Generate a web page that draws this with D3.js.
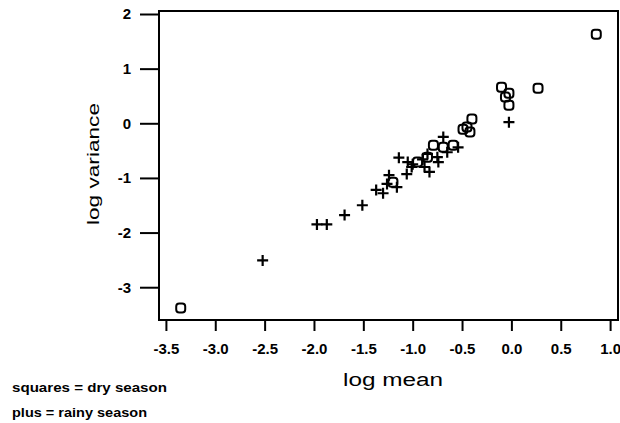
<!DOCTYPE html>
<html>
<head>
<meta charset="utf-8">
<script src="https://cdn.jsdelivr.net/npm/d3@7"></script>
<style>
  body { margin: 0; background: #fff; }
  svg { display: block; font-family: "Liberation Sans", Arial, sans-serif; }
</style>
</head>
<body>
<div id="chart"></div>
<script>
// dry season (squares): [log mean, log variance]
const dryMean = [-3.35, -1.20, -0.95, -0.85, -0.79, -0.69, -0.59, -0.49, -0.45, -0.42, -0.40, -0.10, -0.06, -0.025, -0.025, 0.27, 0.86];
const dryVar  = [-3.38, -1.08, -0.71, -0.62, -0.40, -0.44, -0.40, -0.11, -0.07, -0.16, 0.08, 0.66, 0.48, 0.55, 0.33, 0.64, 1.63];

// rainy season (plus)
const rainyMean = [-2.52, -1.97, -1.87, -1.69, -1.51, -1.37, -1.30, -1.26, -1.24, -1.16, -1.14, -1.06, -1.05, -1.01, -1.00, -0.90, -0.88, -0.83, -0.85, -0.75, -0.74, -0.69, -0.65, -0.54, -0.025];
const rainyVar  = [-2.51, -1.85, -1.85, -1.68, -1.50, -1.22, -1.28, -1.11, -0.95, -1.17, -0.63, -0.93, -0.71, -0.80, -0.75, -0.66, -0.80, -0.89, -0.56, -0.62, -0.71, -0.25, -0.53, -0.44, 0.02];

const xTicks = [-3.5, -3.0, -2.5, -2.0, -1.5, -1.0, -0.5, 0.0, 0.5, 1.0];
const yTicks = [-3, -2, -1, 0, 1, 2];
const legendLines = ['squares = dry season', 'plus = rainy season'];
const legendWidths = [155, 135];

const W = 620, H = 423;
const margin = {top: 11, right: 2, bottom: 103, left: 159};
const width = W - margin.left - margin.right;
const height = H - margin.top - margin.bottom;

const svg = d3.select('#chart').append('svg')
    .attr('width', W)
    .attr('height', H);

const g = svg.append('g')
    .attr('transform', `translate(${margin.left},${margin.top})`);

const x = d3.scaleLinear().domain([-3.57, 1.08]).range([0, width]);
const y = d3.scaleLinear().domain([-3.6, 2.055]).range([height, 0]);

// frame
g.append('rect')
    .attr('width', width)
    .attr('height', height)
    .attr('fill', 'none')
    .attr('stroke', '#000')
    .attr('stroke-width', 2);

// x axis
const xAxis = g.append('g')
    .attr('transform', `translate(0,${height})`)
    .call(d3.axisBottom(x).tickValues(xTicks).tickSize(11).tickPadding(12));
xAxis.select('.domain').remove();
xAxis.selectAll('.tick line').attr('stroke-width', 2);
xAxis.selectAll('.tick text')
    .style('font-size', '15px')
    .style('font-weight', 'bold')
    .text(d => d3.format('.1f')(d).replace('−', '-'));

// y axis
const yAxis = g.append('g')
    .call(d3.axisLeft(y).tickValues(yTicks).tickSize(19).tickPadding(9));
yAxis.select('.domain').remove();
yAxis.selectAll('.tick line').attr('stroke-width', 2);
yAxis.selectAll('.tick text')
    .style('font-size', '15px')
    .style('font-weight', 'bold')
    .text(d => String(d).replace('−', '-'));

// axis titles
svg.append('text')
    .attr('x', 343)
    .attr('y', 386)
    .attr('font-size', 18)
    .attr('textLength', 100)
    .attr('lengthAdjust', 'spacingAndGlyphs')
    .text('log mean');

svg.append('text')
    .attr('transform', 'translate(99,225) rotate(-90)')
    .attr('font-size', 17)
    .attr('textLength', 122)
    .attr('lengthAdjust', 'spacingAndGlyphs')
    .text('log variance');

// dry season squares
g.selectAll('rect.dry')
    .data(dryMean)
    .enter()
    .append('rect')
    .attr('class', 'dry')
    .attr('x', d => x(d) - 4.5)
    .attr('y', (d, i) => y(dryVar[i]) - 4.5)
    .attr('width', 9)
    .attr('height', 9)
    .attr('rx', 3)
    .attr('fill', 'none')
    .attr('stroke', '#000')
    .attr('stroke-width', 2);

// rainy season plus signs
g.selectAll('path.rainy')
    .data(rainyMean)
    .enter()
    .append('path')
    .attr('class', 'rainy')
    .attr('transform', (d, i) => `translate(${x(d)},${y(rainyVar[i])})`)
    .attr('d', 'M-5.5,0H5.5M0,-5.5V5.5')
    .attr('stroke', '#000')
    .attr('stroke-width', 2.2)
    .attr('fill', 'none');

// legend notes
svg.selectAll('text.note')
    .data(legendLines)
    .enter()
    .append('text')
    .attr('class', 'note')
    .attr('x', 12)
    .attr('y', (d, i) => 392 + i * 25)
    .attr('font-size', 13)
    .attr('font-weight', 'bold')
    .attr('textLength', (d, i) => legendWidths[i])
    .attr('lengthAdjust', 'spacingAndGlyphs')
    .text(d => d);
</script>
</body>
</html>
